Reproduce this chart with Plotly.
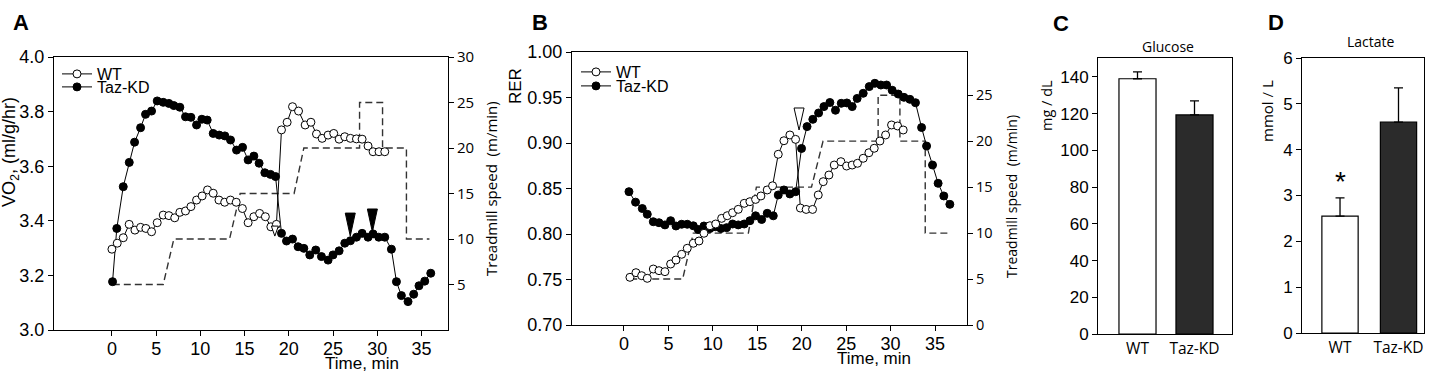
import plotly.graph_objects as go

W, H = 1439, 373

# ---------------- Panel A data (VO2 vs time) ----------------
time_wt_a = [0.0, 0.6, 1.28, 1.95, 2.6, 3.24, 3.84, 4.48, 5.12, 5.8, 6.44, 7.1, 7.68, 8.32, 8.93,
             9.57, 10.2, 10.81, 11.45, 12.1, 12.75, 13.4, 14.05, 14.75, 15.4, 16.05, 16.7, 17.35,
             17.97, 18.6, 19.17, 19.81, 20.42, 21.1, 21.85, 22.5, 23.13, 23.77, 24.44, 25.08,
             25.69, 26.33, 26.97, 27.65, 28.29, 28.96, 29.53, 30.2, 30.85]
vo2_wt = [3.296, 3.318, 3.338, 3.387, 3.366, 3.376, 3.372, 3.36, 3.393, 3.421, 3.419, 3.411,
          3.431, 3.436, 3.452, 3.476, 3.491, 3.513, 3.501, 3.476, 3.468, 3.476, 3.468, 3.445,
          3.393, 3.415, 3.427, 3.415, 3.378, 3.387, 3.733, 3.761, 3.818, 3.802, 3.751, 3.761,
          3.718, 3.702, 3.714, 3.72, 3.699, 3.708, 3.702, 3.7, 3.699, 3.674, 3.653, 3.653, 3.653]

time_kd_a = [0.07, 0.55, 1.28, 1.96, 2.56, 3.24, 3.8, 4.48, 5.12, 5.8, 6.44, 7.0, 7.68, 8.32,
             8.93, 9.57, 10.17, 10.77, 11.45, 12.13, 12.77, 13.41, 14.09, 14.77, 15.4, 16.05,
             16.64, 17.29, 17.93, 18.5, 19.17, 19.74, 20.42, 21.05, 21.7, 22.37, 23.05, 23.69,
             24.44, 25.0, 25.69, 26.33, 26.97, 27.65, 28.29, 28.96, 29.53, 30.17, 30.85, 31.6,
             32.17, 32.73, 33.48, 34.12, 34.72, 35.37, 36.05]
vo2_kd = [3.177, 3.372, 3.525, 3.614, 3.688, 3.741, 3.79, 3.802, 3.839, 3.834, 3.83, 3.822,
          3.816, 3.781, 3.779, 3.751, 3.772, 3.769, 3.72, 3.714, 3.711, 3.696, 3.659, 3.669,
          3.623, 3.637, 3.611, 3.576, 3.570, 3.562, 3.354, 3.326, 3.333, 3.305, 3.299, 3.275,
          3.293, 3.269, 3.256, 3.275, 3.29, 3.318, 3.327, 3.34, 3.354, 3.34, 3.352, 3.34, 3.34,
          3.296, 3.177, 3.126, 3.104, 3.131, 3.162, 3.179, 3.208]

tread_time_a = [0.1, 5.8, 7.0, 13.3, 14.5, 20.6, 21.7, 28.0, 28.0, 30.6, 30.6, 33.3, 33.3, 35.9]
tread_speed_a = [5, 5, 10, 10, 15, 15, 20, 20, 25, 25, 20, 20, 10, 10]

arrow_kd_time_a = [26.95, 29.45]
arrow_kd_vo2_a = [3.344, 3.359]
arrow_wt_time_a = [18.42]
arrow_wt_vo2_a = [3.344]

# ---------------- Panel B data (RER vs time) ----------------
time_wt_b = [0.67, 1.35, 1.99, 2.62, 3.3, 3.94, 4.61, 5.25, 5.85, 6.49, 7.12, 7.8, 8.44, 9.0,
             9.67, 10.32, 10.99, 11.62, 12.22, 12.86, 13.53, 14.17, 14.81, 15.41, 16.12, 16.72,
             17.36, 18.0, 18.67, 19.31, 19.85, 20.5, 21.22, 21.86, 22.42, 23.06, 23.66, 24.41,
             25.05, 25.68, 26.28, 26.92, 27.56, 28.16, 28.8, 29.44, 30.11, 30.79, 31.42]
rer_wt = [0.7524, 0.7575, 0.7542, 0.7513, 0.7615, 0.7597, 0.7586, 0.767, 0.7714, 0.7777,
          0.7843, 0.7898, 0.7923, 0.8008, 0.8091, 0.811, 0.8172, 0.8201, 0.8234, 0.8271,
          0.8337, 0.8355, 0.838, 0.8418, 0.8484, 0.853, 0.8876, 0.9025, 0.9088, 0.904,
          0.8285, 0.827, 0.827, 0.8429, 0.8575, 0.8648, 0.8758, 0.8795, 0.8747, 0.8758,
          0.8777, 0.8832, 0.8893, 0.8942, 0.9022, 0.9088, 0.9198, 0.9187, 0.9143]

time_kd_b = [0.56, 1.3, 2.06, 2.62, 3.3, 3.94, 4.61, 5.25, 5.85, 6.49, 7.12, 7.8, 8.36, 9.0,
             9.67, 10.28, 10.91, 11.55, 12.22, 12.86, 13.53, 14.17, 14.81, 15.49, 16.12, 16.8,
             17.36, 18.0, 18.67, 19.31, 19.98, 20.6, 21.25, 21.9, 22.5, 23.17, 23.8, 24.45,
             25.08, 25.68, 26.24, 26.92, 27.6, 28.23, 28.91, 29.55, 30.18, 30.86, 31.5, 32.17,
             32.8, 33.49, 34.05, 34.72, 35.35, 35.99, 36.67]
rer_kd = [0.8465, 0.835, 0.828, 0.8217, 0.8135, 0.8124, 0.810, 0.8146, 0.8088, 0.8107, 0.8107,
          0.809, 0.805, 0.8088, 0.806, 0.808, 0.806, 0.807, 0.811, 0.810, 0.811, 0.8146, 0.820,
          0.816, 0.8227, 0.820, 0.8429, 0.8484, 0.844, 0.8465, 0.894, 0.918, 0.926, 0.933,
          0.940, 0.9445, 0.936, 0.9436, 0.944, 0.940, 0.949, 0.9546, 0.962, 0.9656, 0.9637,
          0.9637, 0.958, 0.9538, 0.9502, 0.948, 0.9443, 0.917, 0.8967, 0.8758, 0.8557, 0.8418,
          0.8326]

tread_time_b = [0.7, 6.6, 7.8, 14.0, 14.9, 21.1, 22.4, 28.6, 28.6, 31.05, 31.05, 33.9, 33.9, 36.5]
tread_speed_b = [5, 5, 10, 10, 15, 15, 20, 20, 25, 25, 20, 20, 10, 10]

arrow_wt_time_b = [19.7]
arrow_wt_rer_b = [0.9143]

# ---------------- Panels C, D data ----------------
groups = ["WT", "Taz-KD"]
glucose_mean = [139.0, 119.3]
glucose_err = [3.7, 7.7]
lactate_mean = [2.55, 4.6]
lactate_err = [0.4, 0.75]
lactate_star_y = 3.43

time_ticks = [0, 5, 10, 15, 20, 25, 30, 35]

# ---------------- helpers ----------------
def fx(px):
    return px / W

def fy(py):
    return 1 - py / H

ARIAL = "Liberation Sans, Arial, sans-serif"
MYRIAD = "Open Sans, Noto Sans, sans-serif"

axis_common = dict(showline=True, linecolor="black", linewidth=1, ticks="outside", ticklen=5,
                   tickwidth=1, tickcolor="black", showgrid=False, zeroline=False, automargin=False)

fig = go.Figure()

line_style = dict(color="black", width=1)
dash_style = dict(color="#333333", width=1.4, dash="7px,4px")

# Panel A
fig.add_trace(go.Scatter(x=tread_time_a, y=tread_speed_a, mode="lines", line=dash_style,
                         xaxis="x", yaxis="y", showlegend=False, hoverinfo="skip"))
fig.add_trace(go.Scatter(x=time_kd_a, y=vo2_kd, mode="lines+markers", name="Taz-KD",
                         line=line_style,
                         marker=dict(symbol="circle", size=8, color="black",
                                     line=dict(color="black", width=1)),
                         xaxis="x", yaxis="y2", legend="legend2"))
fig.add_trace(go.Scatter(x=time_wt_a, y=vo2_wt, mode="lines+markers", name="WT",
                         line=line_style,
                         marker=dict(symbol="circle", size=8, color="white",
                                     line=dict(color="black", width=1)),
                         xaxis="x", yaxis="y2", legend="legend"))

# Panel B
fig.add_trace(go.Scatter(x=tread_time_b, y=tread_speed_b, mode="lines", line=dash_style,
                         xaxis="x2", yaxis="y3", showlegend=False, hoverinfo="skip"))
fig.add_trace(go.Scatter(x=time_kd_b, y=rer_kd, mode="lines+markers", name="Taz-KD",
                         line=line_style,
                         marker=dict(symbol="circle", size=8, color="black",
                                     line=dict(color="black", width=1)),
                         xaxis="x2", yaxis="y4", legend="legend4"))
fig.add_trace(go.Scatter(x=time_wt_b, y=rer_wt, mode="lines+markers", name="WT",
                         line=line_style,
                         marker=dict(symbol="circle", size=8, color="white",
                                     line=dict(color="black", width=1)),
                         xaxis="x2", yaxis="y4", legend="legend3"))

# Panel C
fig.add_trace(go.Bar(x=groups, y=glucose_mean, width=0.65,
                     marker=dict(color=["white", "#2b2b2b"], line=dict(color="black", width=1.2)),
                     error_y=dict(type="data", symmetric=False, array=glucose_err,
                                  arrayminus=[0, 0], color="black", thickness=1.3, width=4.5),
                     xaxis="x3", yaxis="y5", showlegend=False))
# Panel D
fig.add_trace(go.Bar(x=groups, y=lactate_mean, width=0.62,
                     marker=dict(color=["white", "#2b2b2b"], line=dict(color="black", width=1.2)),
                     error_y=dict(type="data", symmetric=False, array=lactate_err,
                                  arrayminus=[0, 0], color="black", thickness=1.3, width=4.5),
                     xaxis="x4", yaxis="y6", showlegend=False))

# arrowheads
shapes = []
def tri(xref, yref, xa, ya, w, h, filled):
    return dict(type="path", xref=xref, yref=yref, xsizemode="pixel", ysizemode="pixel",
                xanchor=xa, yanchor=ya,
                path=f"M{-w/2},{h} L{w/2},{h} L0,0 Z",
                fillcolor="black" if filled else "white",
                line=dict(color="black", width=1), layer="above")

for t, v in zip(arrow_kd_time_a, arrow_kd_vo2_a):
    shapes.append(tri("x", "y2", t, v, 10, 23, True))
for t, v in zip(arrow_wt_time_a, arrow_wt_vo2_a):
    shapes.append(tri("x", "y2", t, v, 7, 10, False))
for t, v in zip(arrow_wt_time_b, arrow_wt_rer_b):
    shapes.append(tri("x2", "y4", t, v, 10, 22, False))

tick_arial = dict(family=ARIAL, size=18, color="black")
tick_myriad = dict(family=MYRIAD, size=15, color="black")

layout = dict(
    width=W, height=H, autosize=False,
    margin=dict(l=0, r=0, t=0, b=0, pad=0, autoexpand=False),
    paper_bgcolor="white", plot_bgcolor="white",
    shapes=shapes,
    # Panel A
    xaxis=dict(axis_common, domain=[fx(54), fx(448)], range=[-6.55, 38.0], tickvals=time_ticks,
               mirror=True, tickfont=tick_arial, anchor="y", ticklabelstandoff=-3),
    yaxis=dict(axis_common, domain=[fy(330), fy(57)], range=[0, 30], tickvals=[5, 10, 15, 20, 25, 30],
               side="right", anchor="x", tickfont=tick_myriad),
    yaxis2=dict(axis_common, overlaying="y", side="left", anchor="x", range=[3.0, 4.0],
                tickvals=[3.0, 3.2, 3.4, 3.6, 3.8, 4.0], tickformat=".1f", tickfont=tick_arial),
    # Panel B
    xaxis2=dict(axis_common, domain=[fx(572), fx(967)], range=[-5.85, 38.6], tickvals=time_ticks,
                mirror=True, tickfont=tick_arial, anchor="y3", ticklabelstandoff=-3),
    yaxis3=dict(axis_common, domain=[fy(325), fy(52)], range=[0, 29.7],
                tickvals=[0, 5, 10, 15, 20, 25, 30], side="right", anchor="x2",
                tickfont=dict(family=MYRIAD, size=14.5, color="black")),
    yaxis4=dict(axis_common, overlaying="y3", side="left", anchor="x2", range=[0.70, 1.00],
                tickvals=[0.70, 0.75, 0.80, 0.85, 0.90, 0.95, 1.00], tickformat=".2f",
                tickfont=tick_arial),
    # Panel C
    xaxis3=dict(showline=True, linecolor="black", linewidth=1, mirror=True, ticks="",
                showgrid=False, zeroline=False, automargin=False, domain=[fx(1098), fx(1232)],
                range=[-0.693, 1.658], anchor="y5", tickfont=dict(family=MYRIAD, size=15.5, color="black")),
    yaxis5=dict(axis_common, mirror=True, domain=[fy(334), fy(58)], range=[0, 150.3],
                tickvals=[0, 20, 40, 60, 80, 100, 120, 140], anchor="x3",
                tickfont=dict(family=ARIAL, size=17, color="black")),
    # Panel D
    xaxis4=dict(showline=True, linecolor="black", linewidth=1, mirror=True, ticks="",
                showgrid=False, zeroline=False, automargin=False, domain=[fx(1302), fx(1424)],
                range=[-0.65, 1.436], anchor="y6", tickfont=dict(family=MYRIAD, size=15.5, color="black")),
    yaxis6=dict(axis_common, mirror=True, domain=[fy(333), fy(58)], range=[0, 6],
                tickvals=[0, 1, 2, 3, 4, 5, 6], anchor="x4",
                tickfont=dict(family=ARIAL, size=17, color="black")),
    showlegend=True,
)

leg_common = dict(xanchor="left", yanchor="middle", bgcolor="rgba(0,0,0,0)", borderwidth=0,
                  font=dict(family=ARIAL, size=16, color="black"), itemwidth=30)
layout["legend"] = dict(leg_common, x=fx(57), y=fy(74))
layout["legend2"] = dict(leg_common, x=fx(57), y=fy(87))
layout["legend3"] = dict(leg_common, x=fx(576), y=fy(72))
layout["legend4"] = dict(leg_common, x=fx(576), y=fy(86))

fig.update_layout(**layout)

ann = []
def text(px, py, s, size, family=ARIAL, angle=0, **kw):
    ann.append(dict(xref="paper", yref="paper", x=fx(px), y=fy(py), text=s, showarrow=False,
                    textangle=angle, xanchor="center", yanchor="middle",
                    font=dict(family=family, size=size, color="black"), **kw))

# panel letters
text(21, 22, "<b>A</b>", 22)
text(540, 22, "<b>B</b>", 22)
text(1061, 23, "<b>C</b>", 22)
text(1276, 22, "<b>D</b>", 22)
# axis titles
text(10, 152, "VO<sub>2</sub>, (ml/g/hr)", 18, angle=-90)
text(491, 189, "Treadmill speed&nbsp; (m/min)", 15, family=MYRIAD, angle=-90)
text(362, 363, "Time, min", 17)
text(516, 86, "RER", 17, angle=-90)
text(1011, 196, "Treadmill speed&nbsp; (m/min)", 14, family=MYRIAD, angle=-90)
text(874, 358, "Time, min", 17)
text(1168, 47, "Glucose", 14, family=MYRIAD)
text(1047, 106, "mg / dL", 14.5, family=MYRIAD, angle=-90)
text(1371, 42, "Lactate", 14, family=MYRIAD)
text(1267, 111, "mmol / L", 15, family=MYRIAD, angle=-90)

# significance star
ann.append(dict(xref="x4", yref="y6", x=groups[0], y=lactate_star_y, text="*", showarrow=False,
                xanchor="center", yanchor="middle", yshift=-6,
                font=dict(family=ARIAL, size=28, color="black")))

fig.update_layout(annotations=ann)

# remove the default page margin so the 1439x373 figure fills the window exactly
fig.write_html("out.html", config={"displayModeBar": False},
               post_script="document.body.style.margin='0px';")
